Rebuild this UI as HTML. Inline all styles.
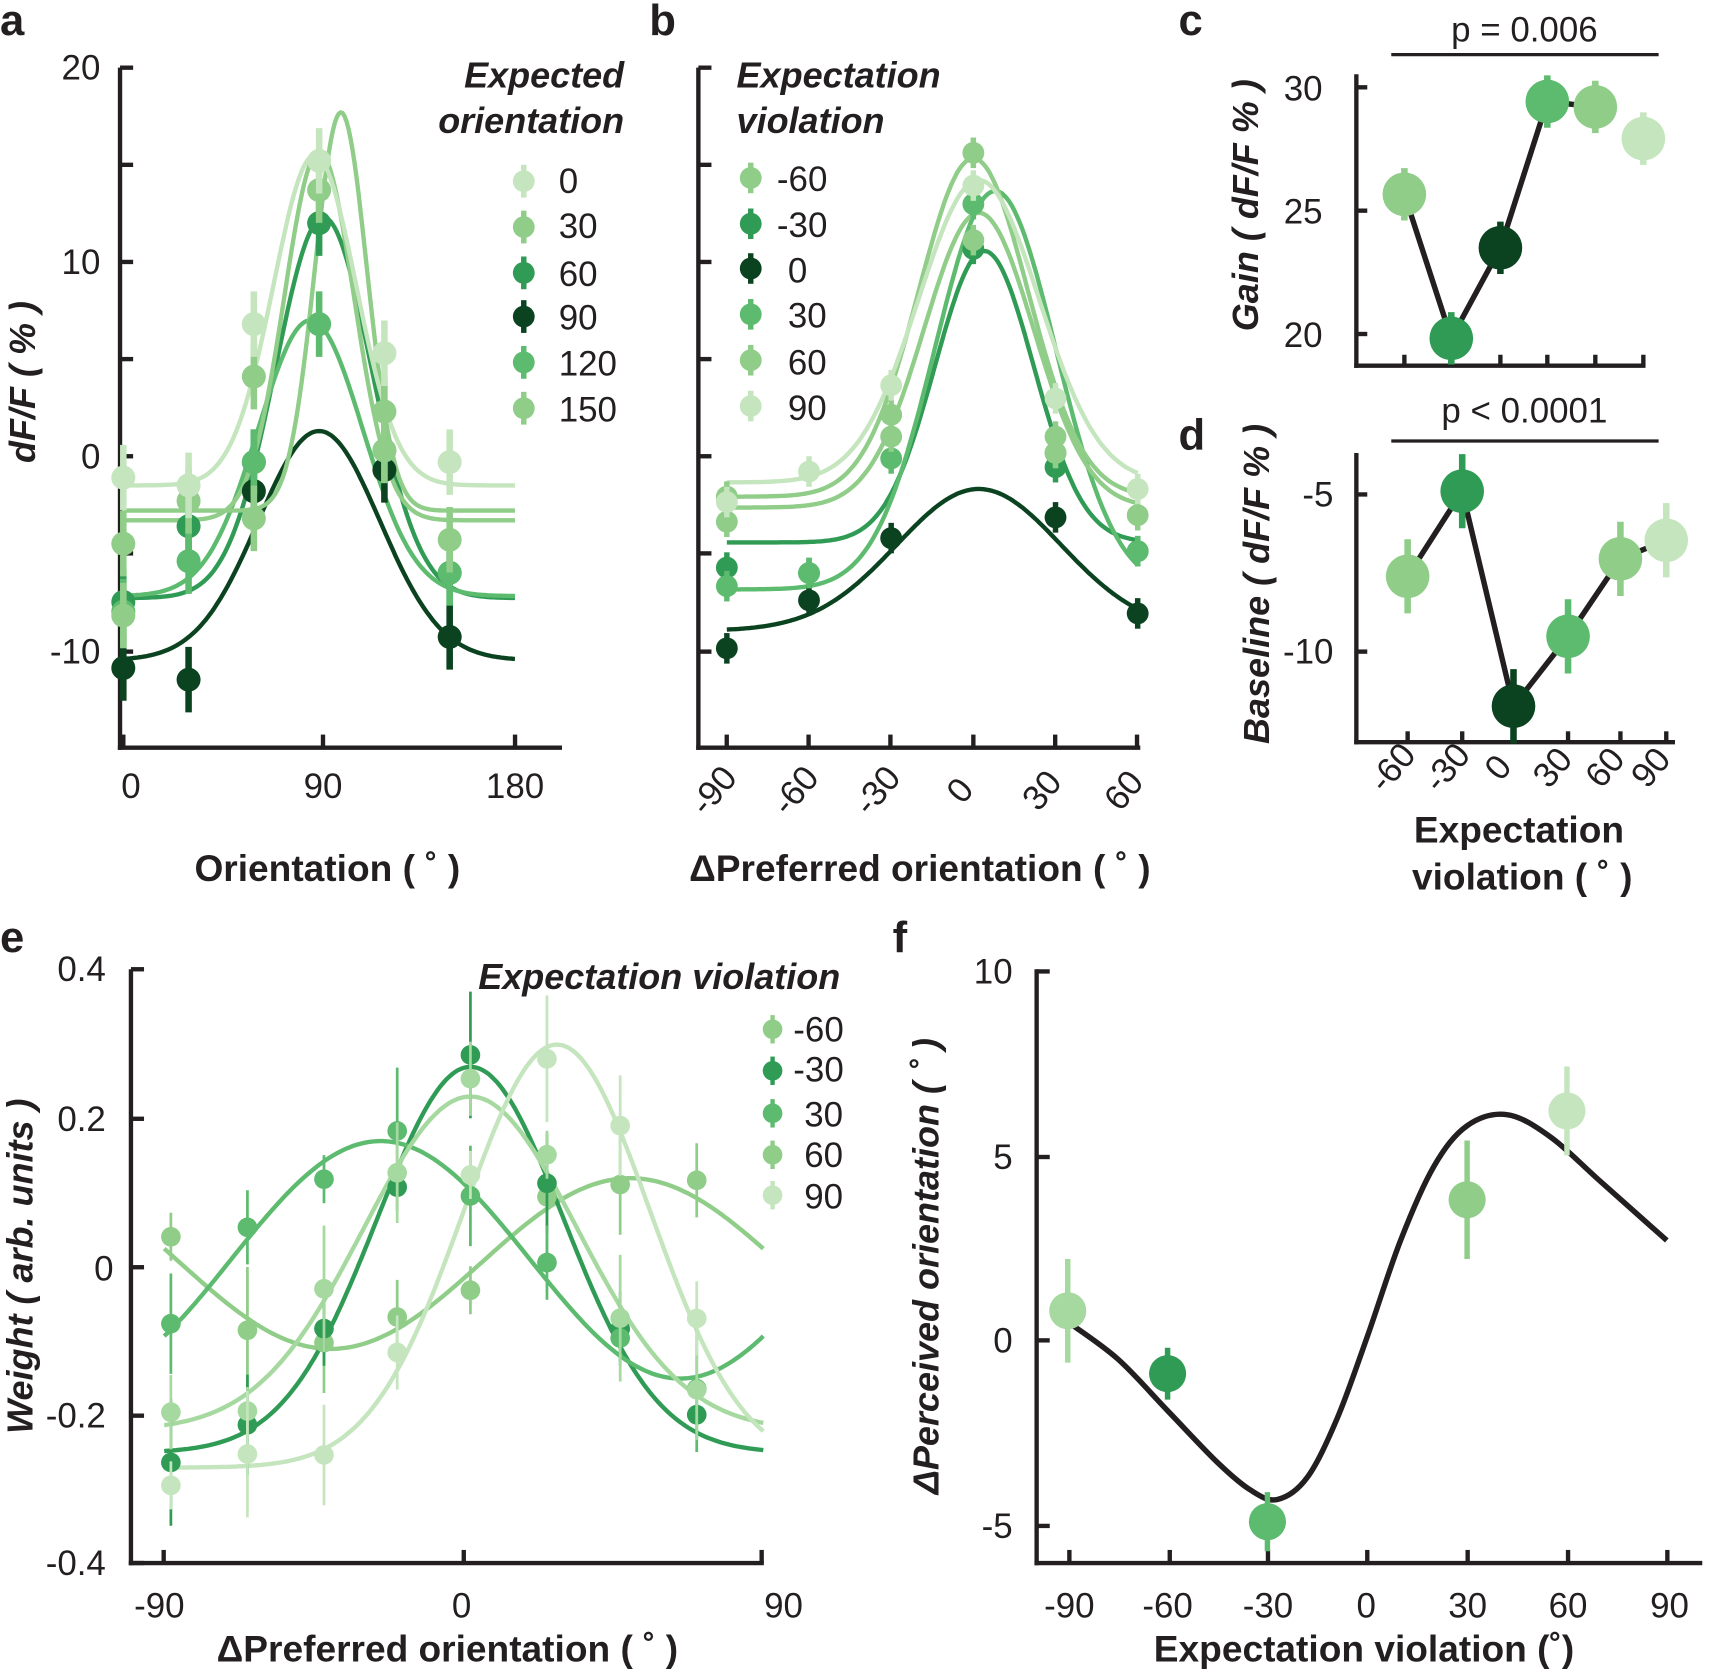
<!DOCTYPE html>
<html><head><meta charset="utf-8"><style>
html,body{margin:0;padding:0;background:#fff}
svg{display:block}
text{font-family:"Liberation Sans",sans-serif;fill:#231f20}
.t{font-size:32px}
.b{font-weight:bold;font-size:34px}
.bi{font-weight:bold;font-style:italic;font-size:33px}
.lab{font-weight:bold;font-size:40px}
</style></head><body>
<svg id="s" width="1711" height="1670" viewBox="0 0 1568 1530" preserveAspectRatio="none" xmlns="http://www.w3.org/2000/svg">
<g stroke="#231f20" stroke-width="4" fill="none" id="ax"></g>
<g id="d"></g>
<text class="lab" x="0" y="32">a</text>
<text class="lab" x="595" y="32">b</text>
<text class="lab" x="1080" y="32">c</text>
<text class="lab" x="1080" y="412">d</text>
<text class="lab" x="0" y="872">e</text>
<text class="lab" x="818" y="872">f</text>
<!-- a -->
<g class="t" text-anchor="end"><text x="92" y="73">20</text><text x="92" y="251">10</text><text x="92" y="429">0</text><text x="92" y="608">-10</text></g>
<g class="t" text-anchor="middle"><text x="120" y="731">0</text><text x="296" y="731">90</text><text x="472" y="731">180</text></g>
<text class="b" x="300" y="807" text-anchor="middle">Orientation ( ˚ )</text>
<text class="bi" transform="translate(32,350) rotate(-90)" text-anchor="middle">dF/F ( % )</text>
<text class="bi" x="572" y="80" text-anchor="end">Expected</text>
<text class="bi" x="572" y="122" text-anchor="end">orientation</text>
<g class="t"><text x="512" y="177">0</text><text x="512" y="218">30</text><text x="512" y="262">60</text><text x="512" y="302">90</text><text x="512" y="344">120</text><text x="512" y="386">150</text></g>
<!-- b -->
<text class="bi" x="675" y="80">Expectation</text>
<text class="bi" x="675" y="122">violation</text>
<g class="t"><text x="712" y="175">-60</text><text x="712" y="217">-30</text><text x="722" y="259">0</text><text x="722" y="300">30</text><text x="722" y="343">60</text><text x="722" y="385">90</text></g>
<g class="t" text-anchor="middle" id="bxt"></g>
<text class="b" x="843" y="807" text-anchor="middle">ΔPreferred orientation ( ˚ )</text>
<!-- c,d -->
<g class="t" text-anchor="end"><text x="1212" y="92">30</text><text x="1212" y="205">25</text><text x="1212" y="318">20</text><text x="1222" y="464">-5</text><text x="1222" y="608">-10</text></g>
<text class="bi" transform="translate(1153,188) rotate(-90)" text-anchor="middle">Gain ( dF/F % )</text>
<text class="bi" transform="translate(1163,535) rotate(-90)" text-anchor="middle">Baseline ( dF/F % )</text>
<text class="t" x="1397" y="38" text-anchor="middle">p = 0.006</text>
<text class="t" x="1397" y="387" text-anchor="middle">p  &lt; 0.0001</text>
<g class="t" text-anchor="middle" id="dxt"></g>
<text class="b" x="1392" y="772" text-anchor="middle">Expectation</text>
<text class="b" x="1395" y="815" text-anchor="middle">violation ( ˚ )</text>
<!-- e -->
<g class="t" text-anchor="end"><text x="97" y="899">0.4</text><text x="97" y="1036">0.2</text><text x="104" y="1173">0</text><text x="97" y="1308">-0.2</text><text x="97" y="1443">-0.4</text></g>
<g class="t" text-anchor="middle"><text x="146" y="1482">-90</text><text x="423" y="1482">0</text><text x="718" y="1482">90</text></g>
<text class="b" x="410" y="1522" text-anchor="middle">ΔPreferred orientation ( ˚ )</text>
<text class="bi" transform="translate(30,1160) rotate(-90)" text-anchor="middle">Weight ( arb. units )</text>
<text class="bi" x="770" y="906" text-anchor="end">Expectation violation</text>
<g class="t"><text x="727" y="954">-60</text><text x="727" y="991">-30</text><text x="737" y="1032">30</text><text x="737" y="1069">60</text><text x="737" y="1107">90</text></g>
<!-- f -->
<g class="t" text-anchor="end"><text x="928" y="901">10</text><text x="928" y="1071">5</text><text x="928" y="1239">0</text><text x="928" y="1409">-5</text></g>
<g class="t" text-anchor="middle"><text x="980" y="1482">-90</text><text x="1070" y="1482">-60</text><text x="1162" y="1482">-30</text><text x="1252" y="1482">0</text><text x="1345" y="1482">30</text><text x="1437" y="1482">60</text><text x="1530" y="1482">90</text></g>
<text class="b" x="1250" y="1522" text-anchor="middle">Expectation  violation (˚)</text>
<text class="bi" transform="translate(860,1160) rotate(-90)" text-anchor="middle">ΔPerceived orientation ( ˚ )</text>
</svg>
<script>
const NS="http://www.w3.org/2000/svg";
const ax=document.getElementById('ax'),D=document.getElementById('d');
function el(p,t,a){const e=document.createElementNS(NS,t);for(const k in a)e.setAttribute(k,a[k]);p.appendChild(e);return e;}
function line(x1,y1,x2,y2){el(ax,'line',{x1,y1,x2,y2});}
line(110,62,110,687);line(108,685,515,685);
[62,151,240,329,418,507,597].forEach(y=>line(110,y,122,y));
[113,296,472].forEach(x=>line(x,685,x,673));
line(640,62,640,687);line(638,685,1045,685);
[62,151,240,329,418,507,597].forEach(y=>line(640,y,652,y));
[666,741,816,892,967,1042].forEach(x=>line(x,685,x,673));
line(1243,68,1243,337);line(1241,335,1508,335);
[80,193,306].forEach(y=>line(1243,y,1253,y));
[1287,1330,1375,1418,1462,1506].forEach(x=>line(x,335,x,325));
line(1243,415,1243,682);line(1241,680,1535,680);
[453,597].forEach(y=>line(1243,y,1253,y));
[1290,1340,1387,1437,1485,1527].forEach(x=>line(x,680,x,670));
el(ax,'line',{x1:1275,y1:50,x2:1520,y2:50,'stroke-width':3});
el(ax,'line',{x1:1275,y1:404,x2:1520,y2:404,'stroke-width':3});
line(120,888,120,1434);line(118,1432,700,1432);
[888,1025,1161,1297,1432].forEach(y=>line(120,y,132,y));
[150,425,698].forEach(x=>line(x,1432,x,1420));
line(950,888,950,1434);line(948,1432,1560,1432);
[890,1060,1228,1398].forEach(y=>line(950,y,962,y));
[980,1072,1162,1253,1345,1437,1528].forEach(x=>line(x,1432,x,1420));
const bxt=document.getElementById('bxt');
[[-90,666],[-60,741],[-30,816],[0,892],[30,967],[60,1042]].forEach(([v,x])=>{el(bxt,'text',{transform:`translate(${x-4},${731}) rotate(-50)`}).textContent=v;});
const dxt=document.getElementById('dxt');
[[-60,1290],[-30,1340],[0,1387],[30,1437],[60,1485],[90,1527]].forEach(([v,x])=>{el(dxt,'text',{transform:`translate(${x-6},${710}) rotate(-50)`}).textContent=v;});

const C={l:'#c4e5bd',l2:'#a6d99f',m1:'#8fcd88',m2:'#5cbb6e',m3:'#2f9b55',dk:'#0b4320'};
function curve(f,x0,x1,X,Y,col,w){let d='';for(let i=0;i<=200;i++){const x=x0+(x1-x0)*i/200;d+=(i?'L':'M')+X(x).toFixed(1)+','+Y(f(x)).toFixed(1);}el(D,'path',{d,stroke:col,'stroke-width':w,fill:'none'});}
function pt(x,y,e,col,r,w){el(D,'line',{x1:x,y1:y-e,x2:x,y2:y+e,stroke:col,'stroke-width':w});el(D,'circle',{cx:x,cy:y,r,fill:col});}
const g=(b,a,m,s)=>x=>b+a*Math.exp(-(x-m)*(x-m)/(2*s*s));
const aX=o=>113+o*1.994,aY=v=>418-17.8*v;
const aS=[[C.dk,g(-10.5,11.8,90,28),[[0,-10.9],[30,-11.5],[60,-1.8],[120,-0.7],[150,-9.3]]],
[C.m3,g(-7.3,19.6,92,22),[[0,-7.5],[30,-3.6],[60,-0.3],[90,12],[150,-6]]],
[C.m2,g(-7.2,14.2,86,24),[[0,-8],[30,-5.4],[60,-0.3],[90,6.8],[120,0.3],[150,-6]]],
[C.m1,g(-2.8,20.5,100,12),[[0,-4.5],[30,-2.3],[60,-3.2],[90,13.7],[120,2.3],[150,-4.3]]],
[C.m1,g(-3.3,19,90,16),[[0,-8.2],[60,4.1],[120,0.3]]],
[C.l,g(-1.5,17,88,19),[[0,-1.1],[30,-1.5],[60,6.8],[90,15.2],[120,5.3],[150,-0.3]]]];
aS.forEach(([c,f])=>curve(f,0,180,aX,aY,c,4));
aS.forEach(([c,f,p])=>p.forEach(([o,v])=>pt(aX(o),aY(v),30,c,11,6)));
[[166,C.l],[208,C.m1],[250,C.m3],[290,C.dk],[332,C.m2],[374,C.m1]].forEach(([y,c])=>pt(480,y,15,c,10,5));
const bX=d=>892+d*2.51,bY=v=>v;
const bS=[[C.dk,g(578,-130,2,30),[[-90,594],[-60,550],[-30,493],[30,474],[60,562]]],
[C.m3,g(497,-267,4,18),[[-90,520],[-60,525],[0,228],[30,428],[60,505]]],
[C.m2,g(540,-365,8,22),[[-90,537],[-60,525],[-30,420],[0,187],[30,415],[60,505]]],
[C.m1,g(465,-270,2,20),[[-90,478],[-30,400],[0,220],[30,400],[60,472]]],
[C.m1,g(455,-310,0,20),[[-90,455],[-30,380],[0,140],[30,415]]],
[C.l,g(442,-277,2,22),[[-90,460],[-60,432],[-30,353],[0,170],[30,365],[60,448]]]];
bS.forEach(([c,f])=>curve(f,-90,60,bX,bY,c,4));
bS.forEach(([c,f,p])=>p.forEach(([o,v])=>pt(bX(o),v,14,c,10,5)));
[[163,C.m1],[205,C.m3],[246,C.dk],[288,C.m2],[330,C.m1],[372,C.l]].forEach(([y,c])=>pt(688,y,14,c,10,5));
el(D,'polyline',{points:'1287,178 1330,310 1375,227 1418,93 1462,98',stroke:'#231f20','stroke-width':5,fill:'none'});
[[1287,178,C.m1],[1330,310,C.m3],[1375,227,C.dk],[1418,93,C.m2],[1462,98,C.m1],[1506,127,C.l]].forEach(([x,y,c])=>pt(x,y,24,c,20,6));
el(D,'polyline',{points:'1290,528 1340,450 1387,647 1437,583 1485,512 1527,495',stroke:'#231f20','stroke-width':5,fill:'none'});
[[1290,528,C.m1],[1340,450,C.m3],[1387,647,C.dk],[1437,583,C.m2],[1485,512,C.m1],[1527,495,C.l]].forEach(([x,y,c])=>pt(x,y,34,c,20,6));
const eX=d=>425+d*3.05,eY=v=>1161-680*v;
const eS=[[C.m1,x=>0.005+0.115*Math.cos(2*(x-50)*Math.PI/180)],
[C.m3,g(-0.25,0.52,2,28)],
[C.m2,x=>0.01+0.16*Math.cos(2*(x+25)*Math.PI/180)],
[C.l2,g(-0.22,0.45,2,32)],
[C.l,g(-0.27,0.57,28,28)]];
eS.forEach(([c,f])=>curve(f,-90,90,eX,eY,c,4));
const xs=[-88,-65,-42,-20,2,25,47,70];
const jit=[0.03,-0.02,0.01,0.02,-0.03,0.02,-0.01,0.03];
eS.forEach(([c,f],k)=>xs.forEach((x,i)=>pt(eX(x),eY(f(x)+jit[(i+k)%8]*0.8),22+((i*7+k*3)%4)*12,c,9,2.5)));
[[943,C.m1],[981,C.m3],[1020,C.m2],[1058,C.m1],[1095,C.l]].forEach(([y,c])=>pt(708,y,13,c,9,4));
const fX=d=>1253+d*3.05,fY=v=>1228-33.9*v;
const P=[[-90,0.5],[-75,-0.5],[-60,-1.9],[-45,-3.3],[-35,-4.05],[-27,-4.3],[-18,-3.7],[-9,-2.1],[0,0.1],[10,2.7],[20,4.7],[30,5.8],[42,6.1],[55,5.5],[70,4.3],[90,2.7]];
let d='M'+fX(P[0][0])+','+fY(P[0][1]);
for(let i=0;i<P.length-1;i++){const p0=P[Math.max(0,i-1)],p1=P[i],p2=P[i+1],p3=P[Math.min(P.length-1,i+2)];
const c1=[p1[0]+(p2[0]-p0[0])/6,p1[1]+(p2[1]-p0[1])/6],c2=[p2[0]-(p3[0]-p1[0])/6,p2[1]-(p3[1]-p1[1])/6];
d+=`C${fX(c1[0])},${fY(c1[1])} ${fX(c2[0])},${fY(c2[1])} ${fX(p2[0])},${fY(p2[1])}`;}
el(D,'path',{d,stroke:'#231f20','stroke-width':5,fill:'none'});
[[-90,0.8,1.4,C.l2],[-60,-0.9,0.7,C.m3],[-30,-4.9,0.8,C.m2],[30,3.8,1.6,C.m1],[60,6.2,1.2,C.l]].forEach(([x,v,e,c])=>pt(fX(x),fY(v),e*33.9,c,17,5));
</script>
</body></html>
